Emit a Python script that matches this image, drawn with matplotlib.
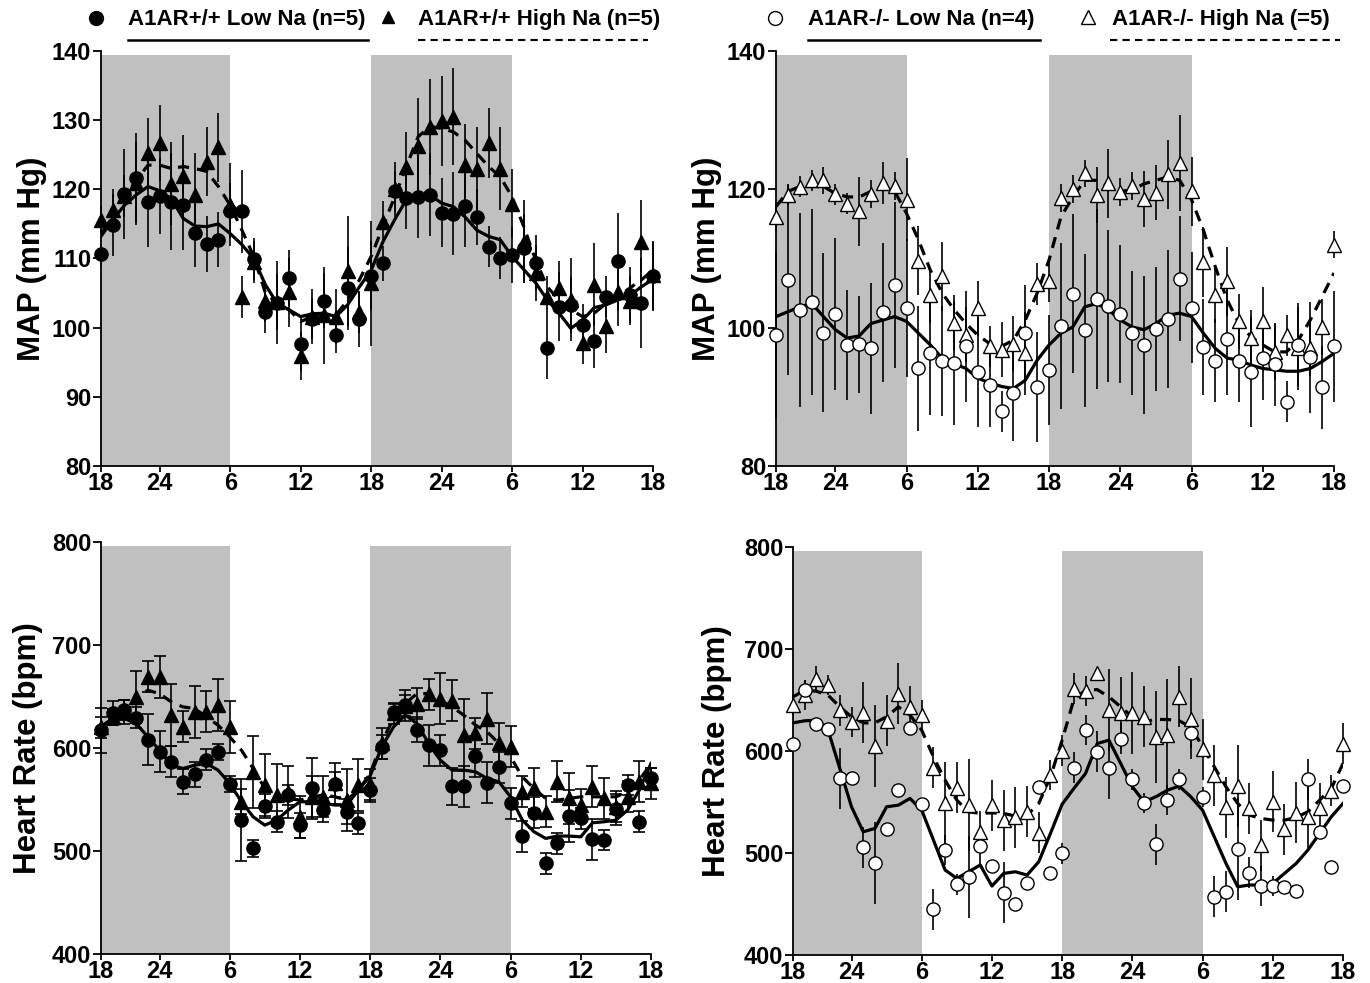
import numpy as np
import matplotlib.pyplot as plt

plt.rcParams['font.family'] = ['Liberation Sans', 'DejaVu Sans']
plt.rcParams['font.weight'] = 'bold'

# Hora do registo (1..48) e rótulos do relógio
hours = np.arange(1, 49)
tick_pos = [1, 6, 12, 18, 24, 30, 36, 42, 48]
tick_lab = ['18', '24', '6', '12', '18', '24', '6', '12', '18']
dark_periods = [(1, 12), (24, 36)]

# ---- MAP, A1AR+/+ ----
map_wt_low = [110.6, 114.8, 119.3, 121.7, 118.1, 119.0, 118.2, 117.7, 113.7, 112.1, 112.7, 116.9,
              116.8, 109.9, 102.3, 103.6, 107.2, 97.7, 101.3, 103.9, 98.9, 105.7, 101.2, 107.5,
              109.3, 119.7, 118.7, 118.9, 119.2, 116.6, 116.5, 117.6, 116.0, 111.7, 110.1, 110.5,
              111.5, 109.4, 97.1, 103.0, 103.3, 100.4, 98.1, 104.5, 109.6, 104.7, 103.5, 107.4]
map_wt_low_err = [1.5, 4.5, 6.5, 6.5, 6.5, 5.5, 7.0, 6.5, 5.0, 4.0, 4.0, 4.0,
                  6.0, 3.0, 3.0, 6.0, 4.0, 4.0, 3.0, 4.0, 2.5, 6.0, 4.0, 5.0,
                  2.5, 3.0, 4.5, 6.0, 6.0, 5.0, 6.0, 6.0, 4.0, 3.0, 3.0, 4.0,
                  5.0, 4.0, 4.5, 5.0, 4.0, 3.0, 4.0, 3.0, 7.0, 4.0, 6.5, 5.0]
map_wt_high = [115.6, 117.0, 119.0, 120.9, 125.3, 126.7, 120.8, 121.9, 119.2, 124.0, 126.1, 117.8,
               104.4, 109.5, 103.8, 103.7, 105.1, 95.9, 101.6, 101.8, 101.6, 108.2, 102.3, 106.4,
               115.3, 120.0, 123.3, 126.2, 129.0, 129.9, 130.5, 123.5, 123.0, 126.7, 123.0, 117.9,
               112.4, 107.9, 104.5, 105.7, 104.0, 97.8, 106.2, 100.3, 105.2, 103.9, 112.4, 107.6]
map_wt_high_err = [2.0, 3.0, 3.0, 6.0, 5.0, 5.5, 6.0, 6.0, 6.0, 5.0, 5.0, 6.0,
                   3.0, 3.0, 3.0, 4.0, 5.0, 3.5, 4.0, 7.0, 4.0, 8.0, 3.0, 9.0,
                   3.0, 4.0, 5.0, 7.0, 7.0, 6.5, 7.0, 6.0, 6.0, 5.0, 6.0, 5.0,
                   6.0, 4.0, 3.0, 4.0, 6.0, 3.0, 6.0, 4.0, 5.0, 3.5, 6.0, 5.0]
map_wt_low_fit = [113.2, 115.6, 117.7, 119.2, 120.4, 119.8, 118.6, 115.8, 114.7, 114.6, 115.0, 113.6,
                  112.0, 110.0, 106.2, 103.5, 102.6, 101.6, 102.0, 102.1, 101.6, 103.3, 105.9, 108.3,
                  112.4, 115.6, 118.5, 118.9, 119.2, 118.0, 117.5, 116.0, 114.1, 113.2, 112.7, 110.3,
                  108.4, 106.5, 104.0, 102.1, 99.9, 101.1, 102.9, 103.3, 104.0, 104.6, 105.9, 107.0]
map_wt_high_fit = [113.4, 116.5, 118.9, 121.3, 123.5, 123.5, 123.0, 123.3, 123.0, 122.6, 120.4, 117.7,
                   114.1, 110.3, 105.0, 103.5, 102.6, 100.9, 101.6, 101.8, 101.8, 104.0, 106.9, 110.3,
                   114.6, 118.9, 123.3, 127.6, 129.1, 128.8, 128.3, 127.1, 125.2, 123.3, 121.8, 118.9,
                   114.6, 109.8, 105.9, 104.0, 102.6, 101.6, 102.1, 103.5, 104.5, 105.7, 106.9, 108.3]

# ---- MAP, A1AR-/- ----
map_ko_low = [98.9, 106.9, 102.6, 103.7, 99.3, 102.0, 97.5, 97.6, 97.0, 102.2, 106.2, 102.8,
              94.1, 96.4, 95.2, 94.9, 97.3, 93.6, 91.7, 87.9, 90.6, 99.2, 91.4, 93.9,
              100.2, 104.9, 99.6, 104.2, 103.1, 102.0, 99.2, 97.5, 99.8, 101.3, 107.1, 102.9,
              97.2, 95.2, 98.3, 95.2, 93.6, 95.6, 94.7, 89.3, 97.5, 95.7, 91.4, 97.3]
map_ko_low_err = [12.0, 13.7, 14.0, 13.5, 11.5, 11.0, 8.0, 7.0, 9.5, 10.0, 12.0, 10.0,
                  9.0, 9.0, 8.0, 9.0, 8.0, 8.0, 6.0, 3.0, 7.0, 7.0, 8.0, 8.0,
                  12.0, 11.5, 11.0, 13.0, 11.0, 10.0, 9.0, 10.0, 9.0, 10.0, 9.0, 8.0,
                  7.0, 6.0, 8.0, 6.0, 8.0, 6.0, 6.0, 3.0, 6.0, 8.0, 6.0, 8.0]
map_ko_high = [116.0, 119.2, 120.4, 121.3, 121.3, 119.3, 117.9, 116.8, 119.3, 120.9, 120.5, 118.5,
               109.7, 104.7, 107.4, 100.7, 99.0, 102.8, 97.3, 96.8, 97.7, 96.3, 106.3, 106.7,
               118.7, 120.0, 122.3, 119.2, 120.9, 119.6, 120.5, 118.6, 119.5, 122.2, 123.8, 119.7,
               109.5, 104.7, 106.7, 100.9, 98.5, 100.9, 96.5, 98.9, 97.0, 97.0, 100.1, 112.0]
map_ko_high_err = [2.0, 1.5, 1.5, 1.5, 2.0, 1.5, 1.5, 5.0, 2.0, 3.0, 2.0, 6.0,
                   5.0, 4.0, 5.0, 4.0, 4.0, 4.0, 3.0, 4.0, 4.0, 6.0, 3.0, 3.0,
                   2.0, 2.0, 2.0, 4.0, 5.0, 2.0, 2.0, 4.0, 4.0, 5.0, 7.0, 5.0,
                   5.0, 4.0, 5.0, 4.0, 4.0, 5.0, 4.0, 3.0, 6.0, 4.0, 4.0, 2.0]
map_ko_low_fit = [101.6, 102.3, 103.0, 103.5, 101.6, 99.7, 98.5, 98.8, 100.6, 101.1, 101.6, 100.9,
                  99.2, 97.5, 95.6, 94.8, 94.1, 92.7, 92.0, 91.5, 91.2, 92.4, 95.3, 97.5,
                  99.2, 100.1, 103.0, 103.5, 102.6, 101.1, 100.1, 99.7, 100.6, 101.8, 102.1, 101.6,
                  99.2, 97.0, 95.6, 95.3, 94.6, 94.1, 93.9, 93.7, 93.7, 94.1, 95.1, 96.3]
map_ko_high_fit = [117.5, 119.7, 120.4, 120.4, 120.4, 119.4, 118.9, 118.9, 119.7, 120.4, 119.7, 116.5,
                   112.7, 108.3, 105.0, 102.6, 100.6, 98.9, 97.7, 97.3, 98.2, 101.1, 105.0, 109.8,
                   116.0, 118.9, 121.3, 121.3, 120.4, 119.7, 119.9, 120.8, 121.3, 121.8, 121.3, 118.5,
                   114.1, 108.8, 104.0, 100.6, 98.7, 97.5, 96.5, 96.5, 98.2, 101.1, 104.5, 107.9]

# ---- Frequência cardíaca, A1AR+/+ ----
hr_wt_low = [617.3, 634.1, 636.7, 629.6, 608.2, 596.3, 586.6, 567.2, 574.3, 588.8, 596.3, 564.9,
             530.0, 502.5, 543.6, 528.4, 554.3, 525.0, 560.7, 539.7, 564.9, 538.1, 526.8, 559.1,
             601.1, 635.1, 641.6, 617.9, 602.7, 597.9, 563.0, 563.0, 592.1, 566.2, 581.1, 546.2,
             514.5, 537.1, 488.0, 507.4, 533.9, 531.6, 511.2, 510.6, 540.3, 564.0, 528.4, 570.4]
hr_wt_low_err = [22, 12, 10, 10, 25, 20, 15, 12, 12, 10, 8, 8,
                 40, 8, 12, 10, 10, 12, 30, 12, 12, 12, 10, 12,
                 12, 8, 15, 12, 20, 15, 18, 20, 20, 20, 15, 15,
                 15, 15, 10, 10, 25, 10, 20, 10, 15, 10, 10, 10]
hr_wt_high = [620.0, 630.0, 635.0, 649.6, 669.0, 669.0, 631.9, 620.5, 635.1, 635.1, 641.6, 620.5,
              547.8, 576.9, 564.0, 554.3, 557.5, 533.0, 552.6, 552.6, 565.6, 549.4, 564.0, 565.0,
              604.4, 633.5, 641.0, 643.2, 652.2, 648.0, 645.8, 612.4, 614.1, 628.6, 604.4, 601.1,
              557.5, 560.7, 538.1, 567.2, 551.0, 545.0, 562.3, 551.0, 543.0, 552.6, 567.2, 565.6]
hr_wt_high_err = [10, 8, 12, 25, 15, 20, 30, 15, 25, 20, 25, 25,
                  12, 35, 30, 30, 25, 20, 20, 20, 20, 30, 25, 15,
                  15, 10, 10, 15, 15, 25, 20, 35, 15, 25, 20, 20,
                  15, 20, 15, 20, 25, 15, 20, 20, 15, 15, 20, 15]
hr_wt_low_fit = [620.5, 628.6, 628.6, 623.8, 610.8, 597.9, 583.3, 580.1, 583.3, 585.0, 578.5, 565.6,
                 547.8, 533.2, 525.1, 530.0, 539.7, 547.8, 547.8, 546.2, 544.6, 544.6, 559.1, 573.0,
                 601.1, 620.5, 631.9, 623.8, 604.4, 588.2, 578.5, 578.5, 576.9, 570.4, 567.2, 552.6,
                 530.0, 518.7, 512.2, 514.5, 514.5, 513.8, 527.4, 528.4, 530.0, 539.7, 559.1, 585.0]
hr_wt_high_fit = [620.5, 628.6, 634.1, 648.0, 656.1, 652.8, 644.8, 639.9, 638.3, 630.2, 622.2, 610.8,
                  597.9, 580.1, 560.7, 554.3, 551.0, 549.4, 552.6, 554.3, 552.6, 549.4, 559.1, 575.0,
                  606.0, 628.6, 643.2, 652.8, 652.8, 646.4, 639.9, 631.9, 622.2, 615.7, 604.4, 591.4,
                  572.0, 560.7, 551.0, 549.4, 551.0, 552.6, 552.6, 552.6, 552.6, 557.5, 568.8, 585.0]

# ---- Frequência cardíaca, A1AR-/- ----
hr_ko_low = [607.3, 659.6, 626.9, 621.1, 573.1, 573.1, 505.5, 490.4, 523.1, 561.6, 622.7, 547.9,
             444.7, 502.9, 469.2, 476.7, 506.8, 487.2, 461.1, 449.6, 470.2, 564.9, 480.0, 499.6,
             583.8, 620.4, 599.2, 582.9, 612.2, 572.1, 549.2, 508.7, 551.8, 572.1, 617.8, 555.1,
             457.1, 462.1, 503.5, 480.7, 467.6, 467.6, 466.9, 462.7, 572.1, 520.8, 485.9, 565.6]
hr_ko_low_err = [5, 10, 5, 5, 30, 5, 20, 40, 5, 5, 5, 5,
                 20, 15, 10, 40, 20, 5, 30, 5, 5, 5, 5, 10,
                 15, 15, 20, 30, 15, 10, 10, 20, 15, 10, 15, 10,
                 20, 20, 50, 15, 20, 10, 5, 5, 20, 5, 5, 5]
hr_ko_high = [644.9, 655.0, 671.0, 664.5, 640.0, 628.6, 637.4, 604.7, 629.6, 656.3, 643.3, 635.1,
              583.5, 549.2, 564.2, 546.9, 520.8, 546.9, 532.2, 534.9, 540.4, 519.8, 576.3, 600.2,
              661.2, 658.9, 676.6, 640.0, 637.4, 637.4, 633.5, 613.9, 615.5, 653.1, 631.8, 601.5,
              576.3, 544.7, 565.6, 543.7, 507.8, 550.2, 523.1, 539.4, 534.9, 543.7, 561.0, 607.3]
hr_ko_high_err = [10, 15, 12, 10, 15, 15, 30, 40, 25, 30, 20, 15,
                  20, 40, 25, 45, 20, 25, 30, 30, 25, 20, 15, 15,
                  15, 15, 5, 40, 35, 40, 30, 45, 55, 30, 40, 30,
                  30, 30, 40, 25, 25, 30, 25, 30, 30, 25, 15, 20]
hr_ko_low_fit = [627.6, 629.6, 630.2, 620.4, 582.9, 545.3, 520.8, 524.1, 545.3, 546.9, 553.5, 542.0,
                 512.7, 483.3, 475.1, 481.6, 488.2, 467.6, 480.0, 481.6, 478.4, 491.4, 519.2, 547.8,
                 563.3, 578.0, 607.3, 610.6, 587.8, 564.9, 550.2, 555.1, 561.6, 565.6, 555.1, 542.0,
                 515.9, 489.8, 466.9, 468.6, 468.6, 470.2, 480.0, 489.8, 502.9, 519.2, 535.5, 548.6]
hr_ko_high_fit = [653.1, 659.6, 658.6, 654.7, 643.3, 633.5, 627.6, 627.6, 633.5, 643.3, 635.1, 620.4,
                  594.3, 571.4, 551.8, 540.4, 538.8, 539.4, 538.8, 536.2, 537.1, 548.6, 574.7, 610.6,
                  650.6, 659.6, 660.2, 653.1, 643.3, 633.5, 628.6, 630.9, 630.9, 629.6, 623.7, 604.1,
                  584.5, 564.9, 548.6, 537.1, 533.9, 532.2, 532.2, 534.9, 540.4, 551.8, 563.3, 587.8]


def painel(ax, low, low_err, low_fit, high, high_err, high_fit, fill,
           ylim, yticks, ylabel, label_x, caps):
    for a, b in dark_periods:
        ax.axvspan(a, b, ymin=0, ymax=0.99, color='#c0c0c0', lw=0, zorder=0)

    cap = 4.5 if caps else 0
    for y, e in ((high, high_err), (low, low_err)):
        eb = ax.errorbar(hours, y, yerr=e, fmt='none', ecolor='black',
                         elinewidth=1.2, capsize=cap, capthick=1.2, zorder=2)
        for art in list(eb[1]) + list(eb[2]):
            art.set_clip_on(False)

    ax.plot(hours, low_fit, '-', color='black', lw=2.3, zorder=3)
    ax.plot(hours, high_fit, '--', color='black', lw=2.3, dashes=(3.5, 2.5), zorder=3)

    ax.plot(hours, high, '^', ms=9.5, mfc=fill, mec='black', mew=1.0,
            clip_on=False, zorder=4)
    ax.plot(hours, low, 'o', ms=9.5, mfc=fill, mec='black', mew=1.0,
            clip_on=False, zorder=4)

    ax.set_xlim(1, 48)
    ax.set_ylim(*ylim)
    ax.set_xticks(tick_pos)
    ax.set_xticklabels(tick_lab)
    ax.set_yticks(yticks)
    for s in ('top', 'right'):
        ax.spines[s].set_visible(False)
    for s in ('left', 'bottom'):
        ax.spines[s].set_linewidth(1.3)
    ax.tick_params(axis='x', direction='out', length=4, width=1.3, labelsize=17, pad=0)
    ax.tick_params(axis='y', direction='out', length=6, width=1.3, labelsize=17, pad=1)
    for t in ax.get_xticklabels() + ax.get_yticklabels():
        t.set_fontweight('bold')
    ax.set_ylabel(ylabel, fontsize=22.5, fontweight='bold')
    ax.yaxis.set_label_coords(label_x, 0.5)


fig = plt.figure(figsize=(13.7, 9.83), dpi=100)

# legenda no topo, em coordenadas de píxeis da figura
lg = fig.add_axes([0, 0, 1, 1])
lg.set_xlim(0, 1370)
lg.set_ylim(983, 0)
lg.axis('off')
lg.plot([96], [18], 'o', ms=10, color='black')
lg.text(128, 19, 'A1AR+/+ Low Na (n=5)', fontsize=16, fontweight='bold', va='center')
lg.plot([128, 368], [40, 40], '-', color='black', lw=1.8)
lg.plot([388], [17], '^', ms=9, color='black')
lg.text(418, 19, 'A1AR+/+ High Na (n=5)', fontsize=16, fontweight='bold', va='center')
lg.plot([418, 648], [40, 40], '--', color='black', lw=1.5, dashes=(3.5, 2.5))
lg.plot([775], [18], 'o', ms=10, mfc='white', mec='black', mew=1.0)
lg.text(808, 19, 'A1AR-/- Low Na (n=4)', fontsize=16, fontweight='bold', va='center')
lg.plot([808, 1040], [40, 40], '-', color='black', lw=1.8)
lg.plot([1088], [17], '^', ms=10, mfc='white', mec='black', mew=1.0)
lg.text(1112, 19, 'A1AR-/- High Na (=5)', fontsize=16, fontweight='bold', va='center')
lg.plot([1110, 1340], [40, 40], '--', color='black', lw=1.5, dashes=(3.5, 2.5))

W, H = 1370, 983
ax1 = fig.add_axes([101 / W, 1 - 466 / H, 552 / W, 415 / H])
ax2 = fig.add_axes([776 / W, 1 - 466 / H, 558 / W, 415 / H])
ax3 = fig.add_axes([101 / W, 1 - 954 / H, 550 / W, 412 / H])
ax4 = fig.add_axes([793 / W, 1 - 955 / H, 550 / W, 408 / H])

painel(ax1, map_wt_low, map_wt_low_err, map_wt_low_fit,
       map_wt_high, map_wt_high_err, map_wt_high_fit, 'black',
       (80, 140), range(80, 141, 10), 'MAP (mm Hg)', -0.098, False)
painel(ax2, map_ko_low, map_ko_low_err, map_ko_low_fit,
       map_ko_high, map_ko_high_err, map_ko_high_fit, 'white',
       (80, 140), range(80, 141, 20), 'MAP (mm Hg)', -0.096, False)
painel(ax3, hr_wt_low, hr_wt_low_err, hr_wt_low_fit,
       hr_wt_high, hr_wt_high_err, hr_wt_high_fit, 'black',
       (400, 800), range(400, 801, 100), 'Heart Rate (bpm)', -0.105, True)
painel(ax4, hr_ko_low, hr_ko_low_err, hr_ko_low_fit,
       hr_ko_high, hr_ko_high_err, hr_ko_high_fit, 'white',
       (400, 800), range(400, 801, 100), 'Heart Rate (bpm)', -0.11, False)

plt.savefig('out.png', dpi=100)
